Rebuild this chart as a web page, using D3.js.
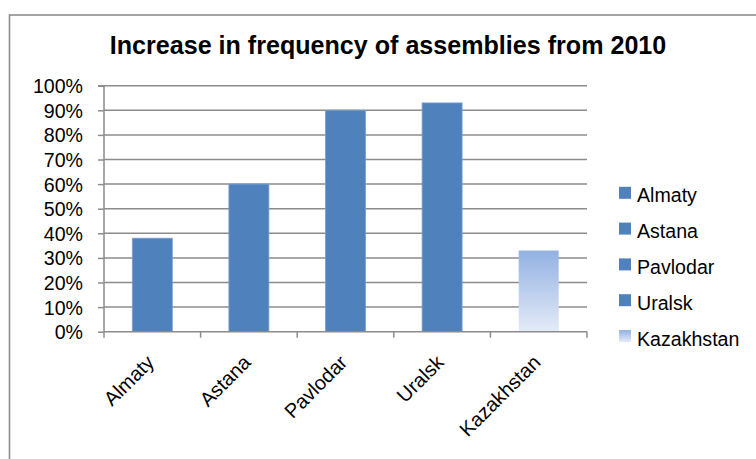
<!DOCTYPE html>
<html>
<head>
<meta charset="utf-8">
<script src="https://cdnjs.cloudflare.com/ajax/libs/d3/7.8.5/d3.min.js"></script>
<style>
  html, body { margin: 0; padding: 0; background: #fff; }
  svg { display: block; font-family: Arial, "Liberation Sans", sans-serif; }
</style>
</head>
<body>
<svg id="chart" width="756" height="459"></svg>
<script>
// Increase in frequency of assemblies, by city, since 2010
const categories = ["Almaty", "Astana", "Pavlodar", "Uralsk", "Kazakhstan"];
const values = [0.38, 0.60, 0.90, 0.93, 0.33];
const yTicks = [0, 0.1, 0.2, 0.3, 0.4, 0.5, 0.6, 0.7, 0.8, 0.9, 1.0];
const title = "Increase in frequency of assemblies from 2010";

const svg = d3.select("#chart");
const W = 756, H = 459;

const plot = { left: 104, right: 587, top: 85.7, bottom: 331.7 };
const fontSize = 19.6;
const gridColor = "#8c8c8c";
const barColor = "#4f81bd";

// chart frame (extends past the right and bottom edges)
svg.append("rect")
  .attr("x", 9.5).attr("y", 15)
  .attr("width", W + 20).attr("height", H + 20)
  .attr("fill", "#fff")
  .attr("stroke", "#8e8e8e")
  .attr("stroke-width", 1.6);

// gradient for the country-wide bar
const defs = svg.append("defs");
const grad = defs.append("linearGradient")
  .attr("id", "kzGrad")
  .attr("x1", 0).attr("y1", 0).attr("x2", 0).attr("y2", 1);
grad.append("stop").attr("offset", "0%").attr("stop-color", "#93b1e2");
grad.append("stop").attr("offset", "100%").attr("stop-color", "#e4ebf7");

// title
svg.append("text")
  .attr("x", 388).attr("y", 54)
  .attr("text-anchor", "middle")
  .attr("font-size", 25.1)
  .attr("font-weight", "bold")
  .attr("fill", "#000")
  .text(title);

const x = d3.scaleBand()
  .domain(categories)
  .range([plot.left, plot.right])
  .paddingInner(0.586)
  .paddingOuter(0.293);

const y = d3.scaleLinear()
  .domain([0, 1])
  .range([plot.bottom, plot.top]);

// horizontal gridlines
svg.append("g")
  .selectAll("line")
  .data(yTicks.filter(d => d > 0))
  .join("line")
  .attr("x1", plot.left).attr("x2", plot.right)
  .attr("y1", d => y(d)).attr("y2", d => y(d))
  .attr("stroke", gridColor)
  .attr("stroke-width", 1.5);

// y axis
const yAxis = d3.axisLeft(y)
  .tickValues(yTicks)
  .tickFormat(d3.format(".0%"))
  .tickSize(6)
  .tickPadding(15);
const yg = svg.append("g")
  .attr("transform", `translate(${plot.left},0)`)
  .call(yAxis);
yg.select(".domain").attr("stroke", gridColor).attr("stroke-width", 1.5).attr("d", `M-6,${plot.top}H0V${plot.bottom}`);
yg.selectAll(".tick line").attr("stroke", gridColor).attr("stroke-width", 1.5);
yg.selectAll(".tick text")
  .attr("font-size", fontSize)
  .attr("font-family", "Arial, 'Liberation Sans', sans-serif")
  .attr("fill", "#000")
  .attr("dy", "0.36em");

// bars
svg.append("g")
  .selectAll("rect")
  .data(categories.map((c, i) => ({ c, v: values[i] })))
  .join("rect")
  .attr("x", d => x(d.c))
  .attr("y", d => y(d.v))
  .attr("width", x.bandwidth())
  .attr("height", d => y(0) - y(d.v))
  .attr("fill", d => d.c === "Kazakhstan" ? "url(#kzGrad)" : barColor)
  .attr("stroke", d => d.c === "Kazakhstan" ? "none" : "#7a9fd0")
  .attr("stroke-width", 0.8);

// x axis with ticks at category boundaries
const xg = svg.append("g");
xg.append("line")
  .attr("x1", plot.left).attr("x2", plot.right)
  .attr("y1", plot.bottom).attr("y2", plot.bottom)
  .attr("stroke", gridColor).attr("stroke-width", 1.5);
const step = x.step();
const boundaries = d3.range(categories.length + 1).map(i => plot.left + i * step);
xg.selectAll("line.tk")
  .data(boundaries)
  .join("line")
  .attr("class", "tk")
  .attr("x1", d => d).attr("x2", d => d)
  .attr("y1", plot.bottom).attr("y2", plot.bottom + 6)
  .attr("stroke", gridColor).attr("stroke-width", 1.5);

xg.selectAll("text")
  .data(categories)
  .join("text")
  .attr("transform", d => `translate(${x(d) + x.bandwidth() / 2 - 7},${plot.bottom + 22}) rotate(-45)`)
  .attr("text-anchor", "end")
  .attr("dy", "0.71em")
  .attr("font-size", fontSize + 0.4)
  .attr("fill", "#000")
  .text(d => d);

// legend
const legend = svg.append("g");
const legendY0 = 202.3, legendStep = 35.8;
categories.forEach((c, i) => {
  const row = legend.append("g").attr("transform", `translate(619,${legendY0 + i * legendStep})`);
  row.append("rect")
    .attr("x", 0).attr("y", -15.5)
    .attr("width", 12).attr("height", 12)
    .attr("fill", c === "Kazakhstan" ? "url(#kzGrad)" : barColor);
  row.append("text")
    .attr("x", 18).attr("y", 0)
    .attr("font-size", fontSize)
    .attr("fill", "#000")
    .text(c);
});
</script>
</body>
</html>
